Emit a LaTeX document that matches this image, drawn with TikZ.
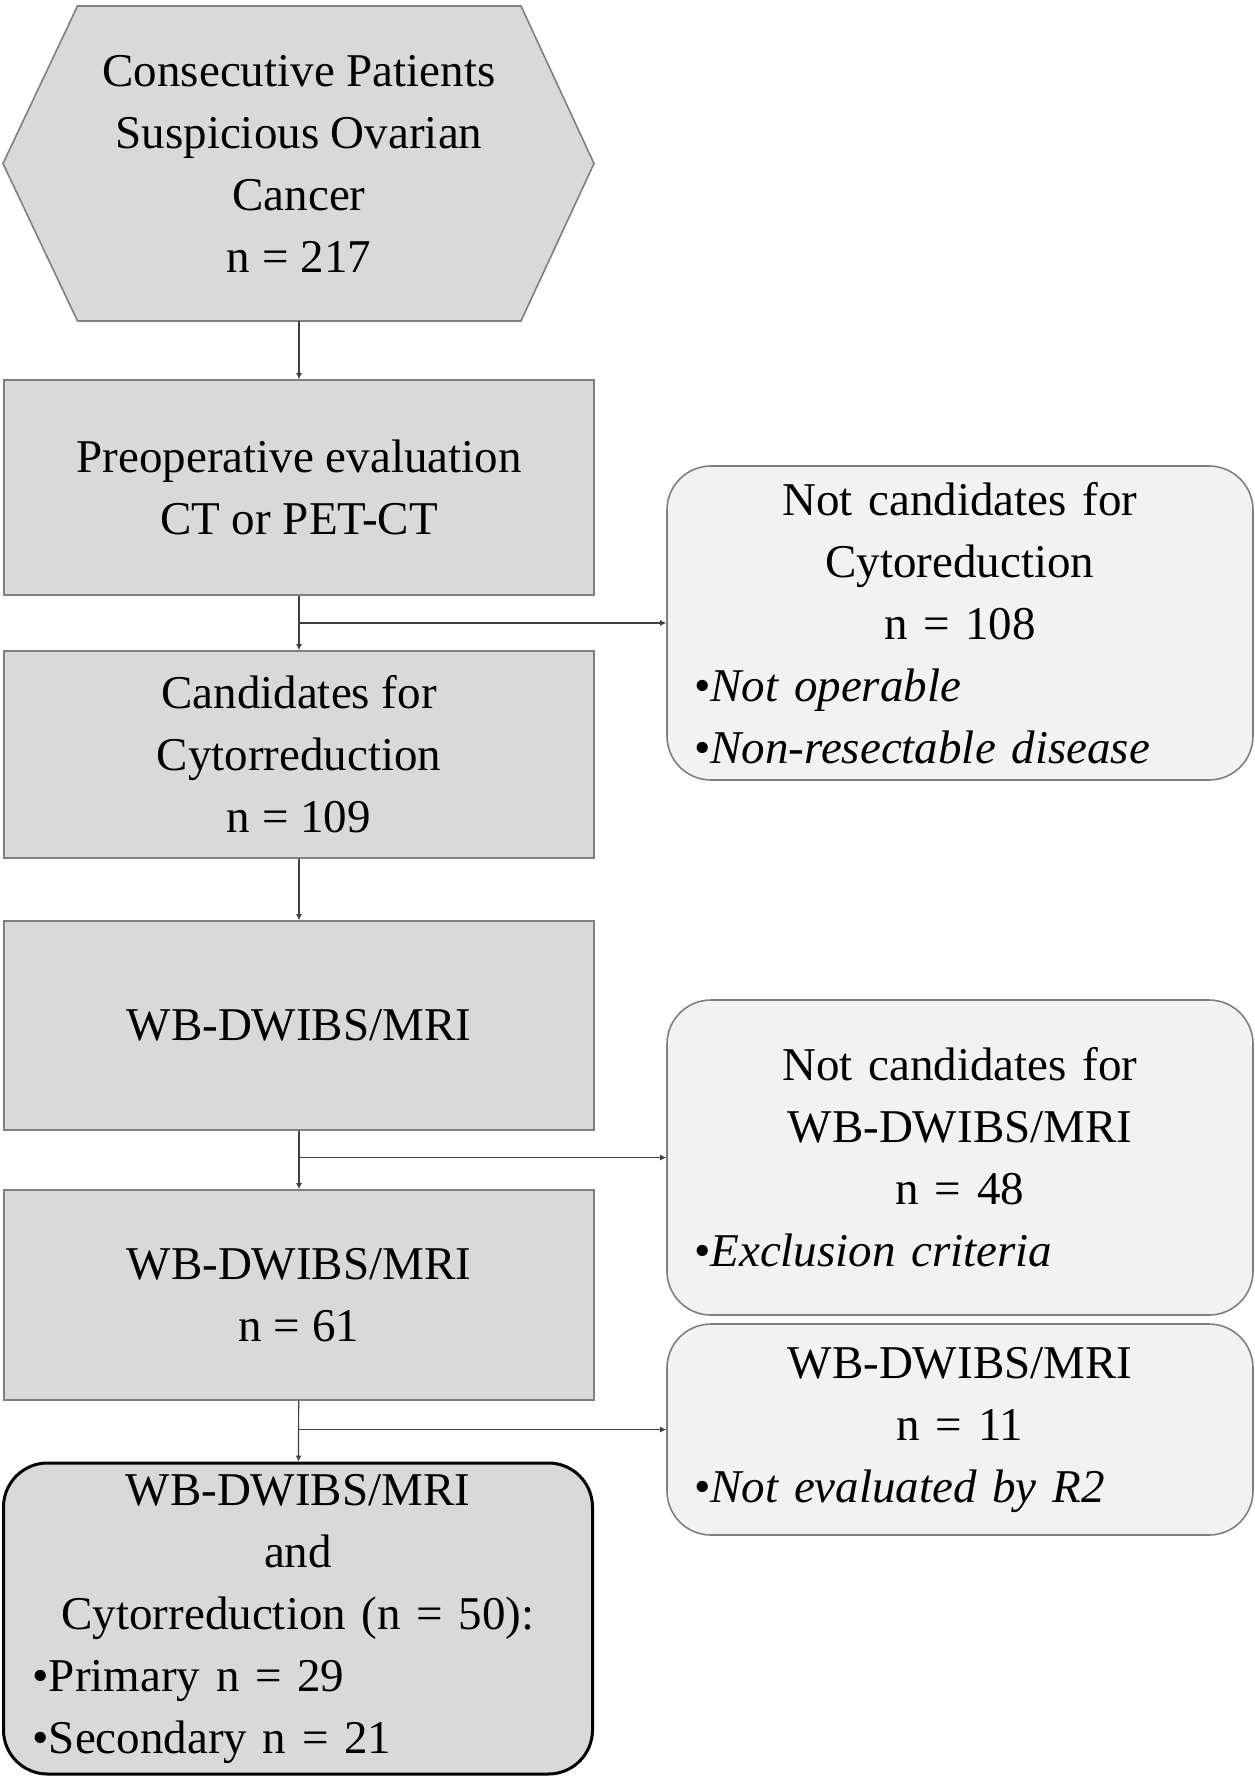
\documentclass[tikz,border=0pt]{standalone}
\usepackage{fontspec}
\setmainfont{Liberation Serif}
\usetikzlibrary{arrows.meta}

\definecolor{boxgray}{HTML}{D9D9D9}
\definecolor{notegray}{HTML}{F2F2F2}
\definecolor{edgegray}{HTML}{7F7F7F}
\definecolor{linkgray}{HTML}{404040}

\begin{document}
\begin{tikzpicture}[x=0.5pt,y=-0.5pt,
  every node/.style={font=\fontsize{23.5}{31}\selectfont},
  stagebox/.style={draw=edgegray,fill=boxgray,line width=0.8pt,minimum width=295pt,align=center},
  notebox/.style={draw=edgegray,fill=notegray,line width=0.8pt,rounded corners=22pt,minimum width=293pt,text width=266pt,inner xsep=13.5pt,align=center},
  finalbox/.style={draw=black,fill=boxgray,line width=1.5pt,rounded corners=22pt,minimum width=294.5pt,text width=265.5pt,inner xsep=14.5pt,align=center},
  link/.style={draw=linkgray,line width=0.6pt,-{Latex[length=3pt,width=3pt]}}]
  \useasboundingbox (0,0) rectangle (1254,1778);
  \draw[draw=edgegray,fill=boxgray,line width=0.8pt] (77.5,6) -- (521,6) -- (594,163.5) -- (521,321) -- (77.5,321) -- (3,163.5) -- cycle;
  \node[minimum height=157.5pt,align=center] (start) at (299,163.5) {Consecutive Patients\\Suspicious Ovarian\\Cancer\\n = 217};
  \node[stagebox,minimum height=107.5pt] (preop) at (299,487.5) {Preoperative evaluation\\CT or PET-CT};
  \node[stagebox,minimum height=103.5pt] (cand) at (299,754.5) {Candidates for\\Cytorreduction\\n = 109};
  \node[stagebox,minimum height=104.5pt] (wb) at (299,1025.5) {WB-DWIBS/MRI};
  \node[stagebox,minimum height=105pt] (wb61) at (299,1295) {WB-DWIBS/MRI\\n = 61};
  \node[finalbox,minimum height=155.5pt] (final) at (298,1618.5) {WB-DWIBS/MRI\\and\\Cytorreduction (n = 50):\\\makebox[\linewidth][l]{\textbullet Primary n = 29}\\\makebox[\linewidth][l]{\textbullet Secondary n = 21}};
  \node[notebox,minimum height=157pt] (notcyto) at (960,623) {Not candidates for\\Cytoreduction\\n = 108\\\makebox[\linewidth][l]{\textbullet\textit{Not operable}}\\\makebox[\linewidth][l]{\textbullet\textit{Non-resectable disease}}};
  \node[notebox,minimum height=157.5pt] (notwb) at (960,1157.5) {Not candidates for\\WB-DWIBS/MRI\\n = 48\\\makebox[\linewidth][l]{\textbullet\textit{Exclusion criteria}}};
  \node[notebox,minimum height=105.5pt] (notr2) at (960,1429.5) {WB-DWIBS/MRI\\n = 11\\\makebox[\linewidth][l]{\textbullet\textit{Not evaluated by R2}}};
  \coordinate (split1) at (preop.south |- notcyto.west);
  \coordinate (split2) at (wb.south |- notwb.west);
  \coordinate (split3) at (wb61.south |- notr2.west);
  \draw[link] (start) -- (preop);
  \draw[link] (preop) -- (cand);
  \draw[link] (split1) -- (notcyto.west);
  \draw[link] (cand) -- (wb);
  \draw[link] (wb) -- (wb61);
  \draw[link] (split2) -- (notwb.west);
  \draw[link] (wb61) -- (final);
  \draw[link] (split3) -- (notr2.west);
\end{tikzpicture}
\end{document}
